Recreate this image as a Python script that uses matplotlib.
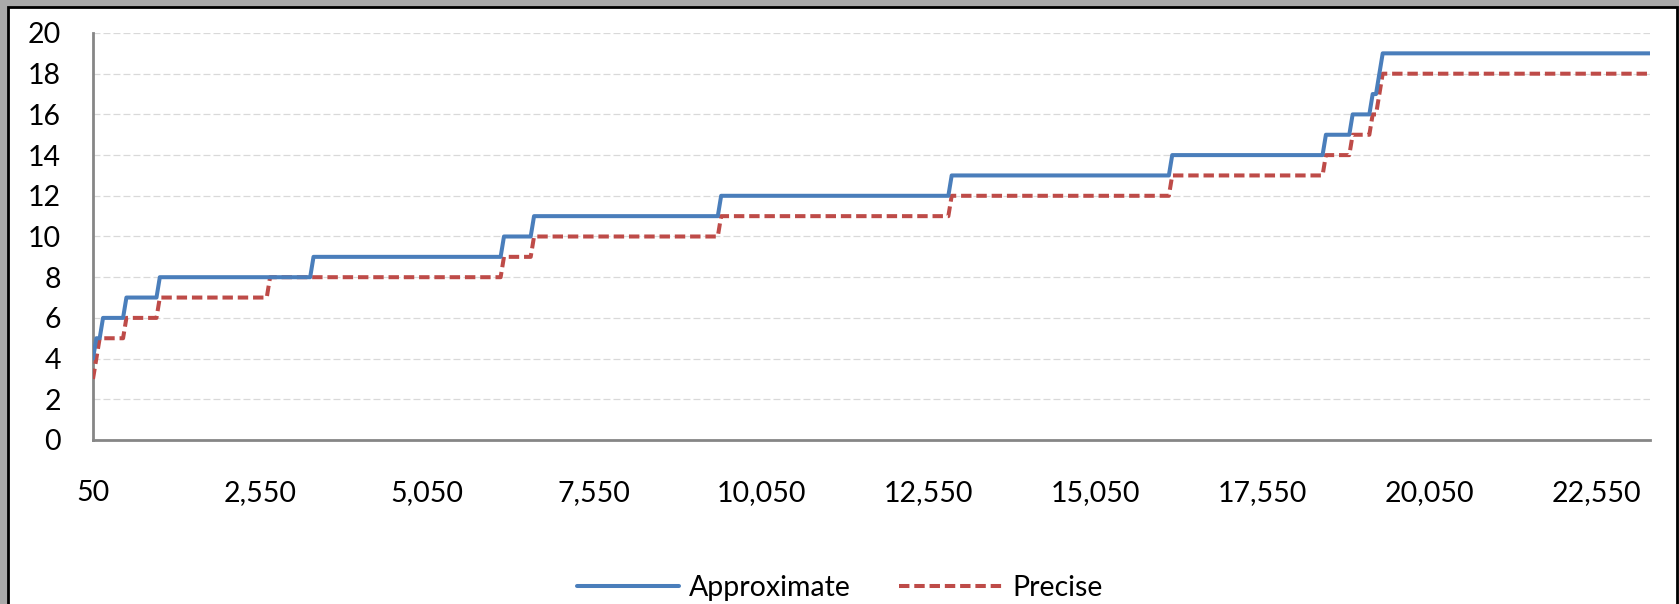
import matplotlib
matplotlib.use('Agg')
import matplotlib.pyplot as plt
from matplotlib.patches import Rectangle

# Step data: x where each level begins, and the level
approx_start = [50, 100, 200, 550, 1050, 3350, 6200, 6650, 9450,
                12900, 16200, 18500, 18900, 19200, 19300, 19350]
approx_level = [4, 5, 6, 7, 8, 9, 10, 11, 12, 13, 14, 15, 16, 17, 18, 19]

precise_start = [50, 100, 150, 550, 1050, 2700, 6200, 6650, 9450,
                 12900, 16200, 18500, 18900, 19200, 19300, 19350]
precise_level = [3, 4, 5, 6, 7, 8, 9, 10, 11, 12, 13, 14, 15, 16, 17, 18]

x_last = 23350
x_step = 50
x_ticks = list(range(50, 22551, 2500))
y_ticks = list(range(0, 21, 2))


def step_vertices(starts, levels, last, step):
    xs, ys = [], []
    for i, (s, v) in enumerate(zip(starts, levels)):
        end = starts[i + 1] - step if i + 1 < len(starts) else last
        xs.append(s)
        ys.append(v)
        if end > s:
            xs.append(end)
            ys.append(v)
    return xs, ys


plt.rcParams['font.family'] = ['Lato', 'DejaVu Sans']
plt.rcParams['lines.scale_dashes'] = False

fig = plt.figure(figsize=(16.79, 6.04), dpi=100)
fig.patch.set_facecolor('#a9a9a9')
fig.patches.append(Rectangle((8 / 1679, -0.1), 1669 / 1679, 1 - 7 / 604 + 0.1,
                             transform=fig.transFigure, facecolor='white',
                             edgecolor='black', linewidth=2, zorder=-5))

ax = fig.add_axes([93 / 1679, 1 - 440 / 604, 1557 / 1679, 407 / 604])
ax.set_facecolor('none')

ax_x, ax_y = step_vertices(approx_start, approx_level, x_last, x_step)
pr_x, pr_y = step_vertices(precise_start, precise_level, x_last, x_step)

ax.plot(ax_x, ax_y, color='#4a7ebb', linewidth=2.9, label='Approximate',
        solid_capstyle='round', solid_joinstyle='round', zorder=4)
ax.plot(pr_x, pr_y, color='#be4b48', linewidth=2.9, label='Precise',
        linestyle=(0, (7.5, 3.5)), dash_capstyle='butt', zorder=3)

ax.set_xlim(50, x_last)
ax.set_ylim(0, 20)
ax.set_xticks(x_ticks)
ax.set_xticklabels([f'{t:,}' for t in x_ticks])
ax.set_yticks(y_ticks)
ax.tick_params(axis='both', length=0, labelsize=20.5, colors='black')
ax.tick_params(axis='x', pad=29)
ax.tick_params(axis='y', pad=23)

ax.yaxis.grid(True, color='#d9d9d9', linestyle=(0, (5, 2.2)), linewidth=0.9)
ax.set_axisbelow(True)
for side in ['top', 'right']:
    ax.spines[side].set_visible(False)
for side in ['left', 'bottom']:
    ax.spines[side].set_color('#868686')
    ax.spines[side].set_linewidth(2)

fig.legend(loc='center', bbox_to_anchor=(0.5, 1 - 588 / 604), ncol=2,
           frameon=False, fontsize=20.5, handlelength=3.6, handletextpad=0.35,
           columnspacing=1.7)

fig.savefig('out.png', dpi=100, facecolor=fig.get_facecolor())
